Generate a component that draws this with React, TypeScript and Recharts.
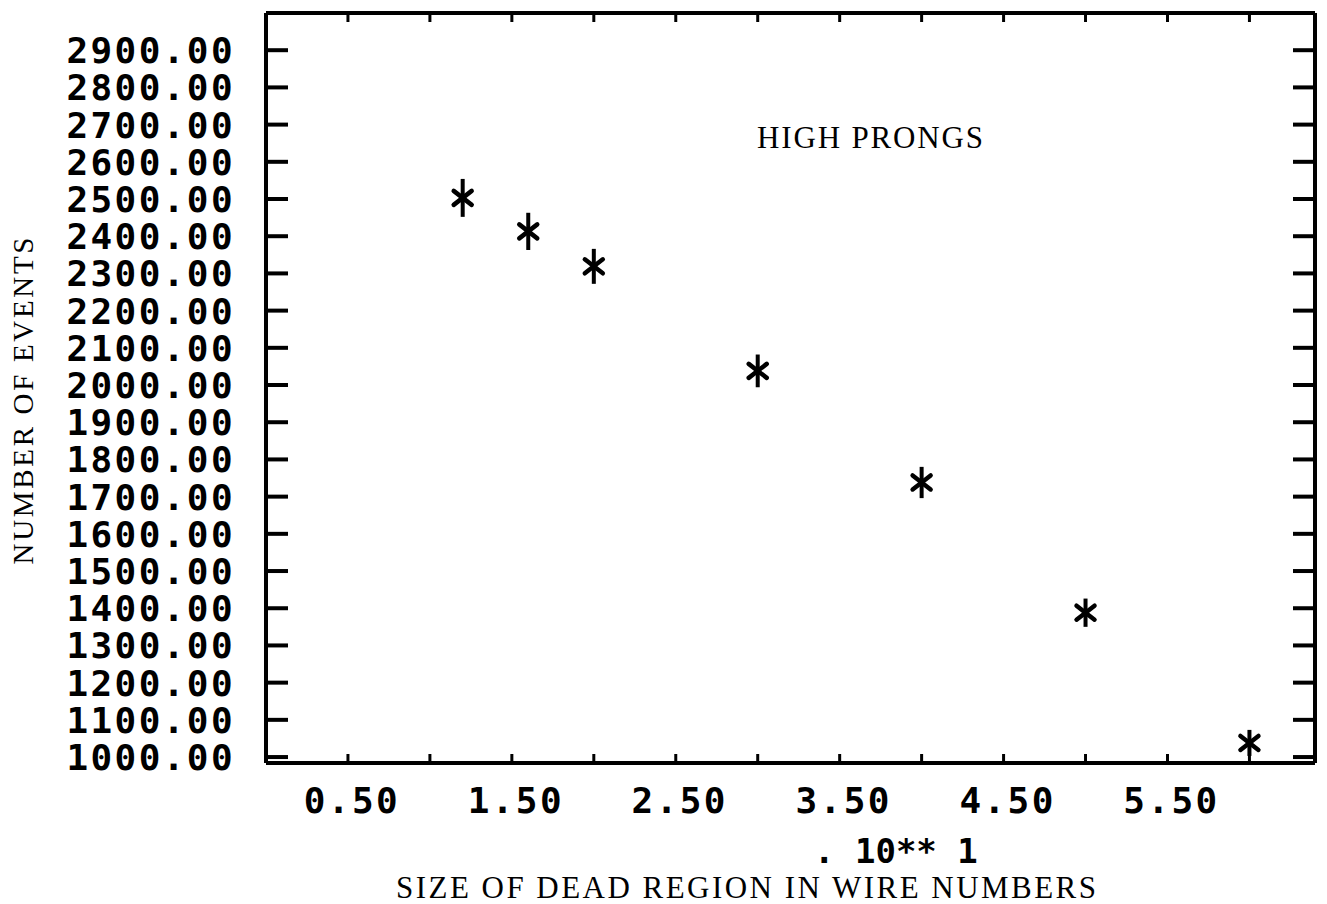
import React from 'react';
import { ScatterChart, Scatter, XAxis, YAxis, ErrorBar, Customized } from 'recharts';

// Dead-region size (in units of 10 wire numbers)
const deadRegionSize = [1.2, 1.6, 2.0, 3.0, 4.0, 5.0, 6.0];
// Number of events (high prongs)
const eventCounts = [2503, 2413, 2319, 2038, 1738, 1388, 1038];
// Statistical error on number of events
const eventErrors = [51, 50, 47, 44, 42, 38, 35];

const xTicks = [0.5, 1.0, 1.5, 2.0, 2.5, 3.0, 3.5, 4.0, 4.5, 5.0, 5.5, 6.0];
const yTicks = [1000, 1100, 1200, 1300, 1400, 1500, 1600, 1700, 1800, 1900, 2000, 2100, 2200, 2300, 2400, 2500, 2600, 2700, 2800, 2900];

const annotationText = 'HIGH PRONGS';
const xTitle = 'SIZE OF DEAD REGION IN WIRE NUMBERS';
const xScaleNote = '. 10** 1';
const yTitle = 'NUMBER OF EVENTS';

const data = deadRegionSize.map((x, i) => ({ x, y: eventCounts[i], err: eventErrors[i] }));

const monoBold = 'DejaVu Sans Mono';
const serif = 'Liberation Serif';

const Star = (props: any) => {
  const { cx, cy } = props;
  if (cx == null || cy == null) return null;
  const dx = 9, dy = 7;
  return (
    <g stroke="#000" strokeWidth={4.5} strokeLinecap="round">
      <line x1={cx - dx} y1={cy - dy} x2={cx + dx} y2={cy + dy} />
      <line x1={cx - dx} y1={cy + dy} x2={cx + dx} y2={cy - dy} />
    </g>
  );
};

const Nothing = () => <g />;

const LeftTick = (props: any) => {
  const { x, y, payload } = props;
  return (
    <g>
      <line x1={x} y1={y} x2={x + 22} y2={y} stroke="#000" strokeWidth={4} />
      <text x={x - 31} y={y} dy="0.36em" textAnchor="end" fontFamily={monoBold} fontWeight="bold" fontSize={36} letterSpacing={2.4} fill="#000">
        {Number(payload.value).toFixed(2)}
      </text>
    </g>
  );
};

const RightTick = (props: any) => {
  const { x, y } = props;
  return <line x1={x - 22} y1={y} x2={x} y2={y} stroke="#000" strokeWidth={4} />;
};

const BottomTick = (props: any) => {
  const { x, y, payload } = props;
  const v = Number(payload.value);
  const labelled = Math.round(v * 2) % 2 === 1;
  return (
    <g>
      <line x1={x} y1={y} x2={x} y2={y - 9} stroke="#000" strokeWidth={3} />
      {labelled && (
        <text x={x + 4} y={y + 37} dy="0.36em" textAnchor="middle" fontFamily={monoBold} fontWeight="bold" fontSize={36} letterSpacing={2.4} fill="#000">
          {v.toFixed(2)}
        </text>
      )}
    </g>
  );
};

const TopTick = (props: any) => {
  const { x, y } = props;
  return <line x1={x} y1={y} x2={x} y2={y + 9} stroke="#000" strokeWidth={3} />;
};

const Annotations = () => (
  <g>
    <text x={757} y={148} fontFamily={serif} fontSize={31} textLength={226} lengthAdjust="spacing" fill="#000">
      {annotationText}
    </text>
    <text x={814} y={863} fontFamily={monoBold} fontWeight="bold" fontSize={34} fill="#000">
      {xScaleNote}
    </text>
    <text x={396} y={898} fontFamily={serif} fontSize={31} textLength={700} lengthAdjust="spacing" fill="#000">
      {xTitle}
    </text>
    <text
      transform="translate(23,401) rotate(-90)"
      textAnchor="middle"
      dy="0.35em"
      fontFamily={serif}
      fontSize={29}
      textLength={327}
      lengthAdjust="spacing"
      fill="#000"
    >
      {yTitle}
    </text>
  </g>
);

const axisLineStyle = { stroke: '#000', strokeWidth: 4 };

export default function App() {
  return (
    <div style={{ position: 'absolute', left: 0, top: 0, width: 1327, height: 904, background: '#fff' }}>
      <ScatterChart width={1327} height={904} margin={{ top: 12, right: 11, bottom: 0, left: 0 }}>
        <XAxis
          dataKey="x"
          type="number"
          domain={[0, 6.4]}
          ticks={xTicks}
          interval={0}
          height={141}
          tickSize={0}
          tickMargin={0}
          tickLine={false}
          tick={<BottomTick />}
          axisLine={axisLineStyle}
          allowDataOverflow
        />
        <XAxis
          xAxisId="top"
          dataKey="x"
          orientation="top"
          type="number"
          domain={[0, 6.4]}
          ticks={xTicks}
          interval={0}
          height={1}
          tickSize={0}
          tickMargin={0}
          tickLine={false}
          tick={<TopTick />}
          axisLine={axisLineStyle}
          allowDataOverflow
        />
        <YAxis
          dataKey="y"
          type="number"
          domain={[984, 3000]}
          ticks={yTicks}
          interval={0}
          width={266}
          tickSize={0}
          tickMargin={0}
          tickLine={false}
          tick={<LeftTick />}
          axisLine={axisLineStyle}
          allowDataOverflow
        />
        <YAxis
          yAxisId="right"
          dataKey="y"
          orientation="right"
          type="number"
          domain={[984, 3000]}
          ticks={yTicks}
          interval={0}
          width={1}
          tickSize={0}
          tickMargin={0}
          tickLine={false}
          tick={<RightTick />}
          axisLine={axisLineStyle}
          allowDataOverflow
        />
        <Scatter data={data} xAxisId="top" yAxisId="right" isAnimationActive={false} shape={<Nothing />} legendType="none" />
        <Scatter data={data} isAnimationActive={false} shape={<Star />}>
          <ErrorBar dataKey="err" direction="y" width={0} stroke="#000" strokeWidth={4} isAnimationActive={false} />
        </Scatter>
        <Customized component={Annotations} />
      </ScatterChart>
    </div>
  );
}
